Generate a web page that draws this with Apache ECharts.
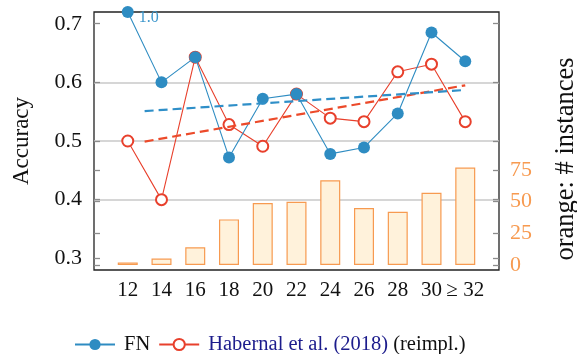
<!DOCTYPE html>
<html>
<head>
<meta charset="utf-8">
<script src="https://cdn.jsdelivr.net/npm/echarts@6/dist/echarts.min.js"></script>
<style>html,body{margin:0;padding:0;background:#fff}#c{width:577px;height:354px}</style>
</head>
<body>
<div id="c"></div>
<script>
const lengths = [12, 14, 16, 18, 20, 22, 24, 26, 28, 30, 32];
const lengthLabels = ['12', '14', '16', '18', '20', '22', '24', '26', '28', '30', '\u2265 32'];
const fnAcc = [1.0, 0.600, 0.643, 0.472, 0.572, 0.580, 0.478, 0.489, 0.547, 0.685, 0.636];
const habAcc = [0.500, 0.400, 0.643, 0.528, 0.491, 0.580, 0.539, 0.533, 0.618, 0.631, 0.533];
const counts = [2, 5, 14, 36, 49, 50, 67, 45, 42, 57, 77];
const fnTrend = [[13, 0.551], [32, 0.587]];
const habTrend = [[13, 0.499], [32, 0.595]];
const accTicks = [0.3, 0.4, 0.5, 0.6, 0.7];
const countTicks = [0, 25, 50, 75];
const accRange = [0.28, 0.72];
const countRange = [-4, 200];

const FONT = 'Liberation Serif';
const BLUE = '#2e8cc2';
const RED = '#e8402c';
const ORANGE = '#f79a50';

const chart = echarts.init(document.getElementById('c'), null, {renderer: 'canvas'});

const tickStyle = {show: true, inside: true, length: 6, lineStyle: {color: '#8c8c8c', width: 1.3}};

chart.setOption({
  animation: false,
  backgroundColor: '#fff',
  grid: {left: 94, right: 78, top: 12, bottom: 84, outerBoundsMode: 'none', containLabel: false,
    show: true, borderColor: '#222', borderWidth: 1.3, backgroundColor: 'transparent'},
  legend: {
    left: 69, top: 329,
    itemWidth: 40, itemHeight: 14, itemGap: 8,
    data: ['FN', 'Habernal et al. (2018) (reimpl.)'],
    formatter: function (name) {
      return name === 'FN' ? 'FN' : '{h|Habernal et al. (2018)} (reimpl.)';
    },
    textStyle: {
      fontFamily: FONT, fontSize: 20.5, color: '#111', padding: [0, 0, 0, 4],
      rich: {h: {fontFamily: FONT, fontSize: 20.5, color: '#1c1c8c'}}
    }
  },
  xAxis: {
    type: 'value', min: 10, max: 34,
    axisLine: {show: false}, axisTick: {show: false}, splitLine: {show: false},
    axisLabel: {
      customValues: lengths,
      fontFamily: FONT, fontSize: 21, color: '#111', margin: 10,
      formatter: function (v) { const i = lengths.indexOf(v); return i >= 0 ? lengthLabels[i] : ''; }
    }
  },
  yAxis: [
    {
      type: 'value', position: 'left', min: accRange[0], max: accRange[1], splitNumber: 5,
      name: 'Accuracy', nameLocation: 'middle', nameRotate: 90, nameGap: 61,
      nameTextStyle: {fontFamily: FONT, fontSize: 23, color: '#111'},
      axisLine: {show: false},
      axisTick: Object.assign({customValues: accTicks}, tickStyle),
      axisLabel: {customValues: accTicks, fontFamily: FONT, fontSize: 22, color: '#111', margin: 12,
        formatter: function (v) { return v.toFixed(1); }},
      splitLine: {show: true, showMinLine: false, showMaxLine: false, lineStyle: {color: '#c8c8c8', width: 1.5}}
    },
    {
      type: 'value', position: 'right', min: countRange[0], max: countRange[1],
      name: 'orange: # instances', nameLocation: 'middle', nameRotate: 90, nameGap: 54,
      nameTextStyle: {fontFamily: FONT, fontSize: 26.5, color: '#111', padding: [0, 36, 0, 0]},
      axisLine: {show: false},
      axisTick: Object.assign({customValues: countTicks}, tickStyle),
      axisLabel: {customValues: countTicks, fontFamily: FONT, fontSize: 22, color: ORANGE, margin: 11},
      splitLine: {show: false}
    },
    {
      type: 'value', position: 'right', min: accRange[0], max: accRange[1],
      axisLine: {show: false}, axisLabel: {show: false}, splitLine: {show: false},
      axisTick: Object.assign({customValues: accTicks}, tickStyle)
    },
    {
      type: 'value', position: 'left', min: countRange[0], max: countRange[1],
      axisLine: {show: false}, axisLabel: {show: false}, splitLine: {show: false},
      axisTick: Object.assign({customValues: countTicks}, tickStyle)
    }
  ],
  series: [
    {
      type: 'bar', yAxisIndex: 1, barWidth: 20, z: 1,
      data: lengths.map((x, i) => [x, counts[i]]),
      itemStyle: {color: '#fff2db', borderColor: ORANGE, borderWidth: 1.2}
    },
    {
      name: 'Habernal et al. (2018) (reimpl.)', type: 'line', yAxisIndex: 0, z: 3,
      data: lengths.map((x, i) => [x, habAcc[i]]),
      symbol: 'emptyCircle', symbolSize: 11,
      lineStyle: {color: RED, width: 1.1},
      itemStyle: {color: RED, borderColor: RED, borderWidth: 1.1}
    },
    {
      name: 'FN', type: 'line', yAxisIndex: 0, z: 4, clip: false,
      data: lengths.map((x, i) => {
        const shown = Math.min(fnAcc[i], accRange[1]);
        const item = {value: [x, shown]};
        if (fnAcc[i] > accRange[1]) {
          item.label = {show: true, position: 'right', distance: 5, offset: [0, 6],
            formatter: fnAcc[i].toFixed(1), fontFamily: FONT, fontSize: 16, color: '#3d97cc'};
        }
        return item;
      }),
      symbol: 'circle', symbolSize: 12,
      lineStyle: {color: BLUE, width: 1.1},
      itemStyle: {color: BLUE}
    },
    {
      type: 'line', yAxisIndex: 0, z: 5, data: habTrend, symbol: 'none',
      lineStyle: {color: '#ec4a2a', width: 2.2, type: [9, 5]}
    },
    {
      type: 'line', yAxisIndex: 0, z: 5, data: fnTrend, symbol: 'none',
      lineStyle: {color: '#2f8fc8', width: 2.2, type: [9, 5]}
    }
  ]
});
</script>
</body>
</html>
